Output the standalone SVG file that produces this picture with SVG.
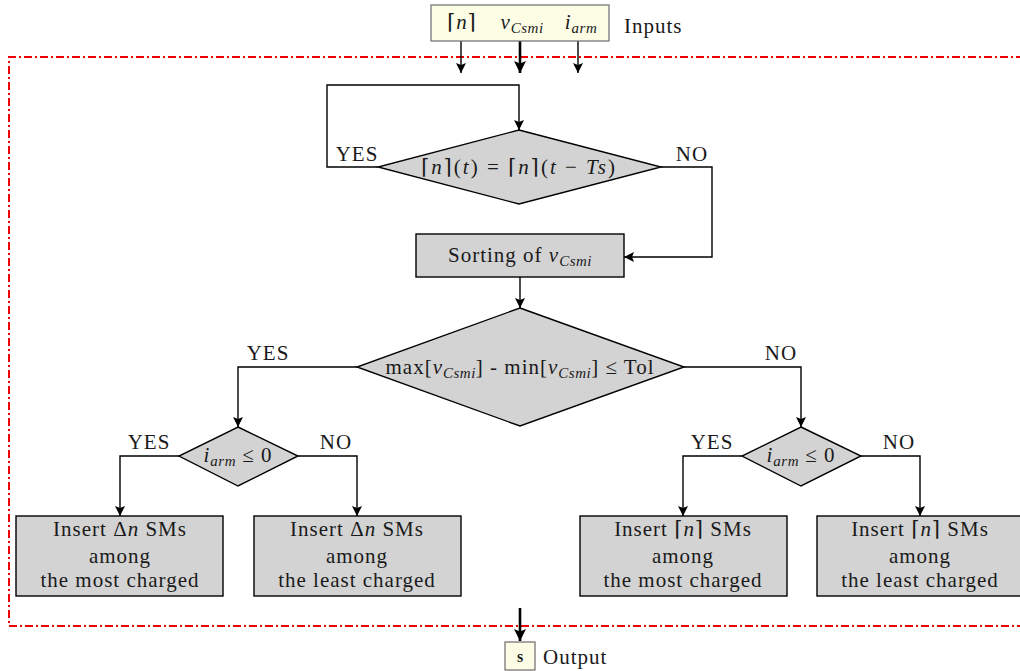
<svg xmlns="http://www.w3.org/2000/svg" width="1020" height="671" viewBox="0 0 1020 671">
<defs>
<marker id="ah" viewBox="0 0 10 10" refX="10" refY="5" markerWidth="10" markerHeight="10" markerUnits="userSpaceOnUse" orient="auto">
<path d="M0,0 L10,5 L0,10 L2,5 Z" fill="#000"/>
</marker>
<marker id="ahb" viewBox="0 0 10 10" refX="10" refY="5" markerWidth="12" markerHeight="12" markerUnits="userSpaceOnUse" orient="auto">
<path d="M0,0 L10,5 L0,10 L2,5 Z" fill="#000"/>
</marker>
</defs>
<style>
text{font-family:"Liberation Serif","DejaVu Serif",serif;font-size:21px;letter-spacing:1px;fill:#1a1a1a}
.m{font-style:italic}
.c{text-anchor:middle}
.sub{font-size:15px;font-style:italic;letter-spacing:0.5px}
.node{fill:#d3d3d3;stroke:#000;stroke-width:1.4}
.io{fill:#fdfde6;stroke:#777;stroke-width:1.3}
.ln{fill:none;stroke:#000;stroke-width:1.4}
.lnb{fill:none;stroke:#000;stroke-width:2.6}
.frame{fill:none;stroke:#e00;stroke-width:2;stroke-dasharray:8 3 2 3}
</style>
<rect width="1020" height="671" fill="#fff"/>
<path class="frame" d="M1024,57 H9 V626 H1024"/>
<g id="connectors">
<line class="ln" x1="461" y1="41" x2="461" y2="73" marker-end="url(#ah)"/>
<line class="lnb" x1="520" y1="41" x2="520" y2="73" marker-end="url(#ahb)"/>
<line class="ln" x1="578" y1="41" x2="578" y2="73" marker-end="url(#ah)"/>
<path class="ln" d="M378,167 H327 V85 H519 V130" marker-end="url(#ah)"/>
<path class="ln" d="M661,167 H712 V257 H624" marker-end="url(#ah)"/>
<line class="ln" x1="520" y1="277" x2="520" y2="308" marker-end="url(#ah)"/>
<path class="ln" d="M357,367 H238 V427" marker-end="url(#ah)"/>
<path class="ln" d="M684,367 H801 V427" marker-end="url(#ah)"/>
<path class="ln" d="M179,456 H120 V516" marker-end="url(#ah)"/>
<path class="ln" d="M298,456 H357 V516" marker-end="url(#ah)"/>
<path class="ln" d="M742,456 H683 V516" marker-end="url(#ah)"/>
<path class="ln" d="M861,456 H920 V516" marker-end="url(#ah)"/>
<line class="lnb" x1="520" y1="608" x2="520" y2="641" marker-end="url(#ahb)"/>
<text x="357" y="161" class="c">YES</text>
<text x="692" y="161" class="c">NO</text>
<text x="268" y="360" class="c">YES</text>
<text x="781" y="360" class="c">NO</text>
<text x="149" y="449" class="c">YES</text>
<text x="336" y="449" class="c">NO</text>
<text x="712" y="449" class="c">YES</text>
<text x="899" y="449" class="c">NO</text>
</g>
<g id="inputs">
<rect class="io" x="431" y="5" width="178" height="36"/>
<text x="462" y="29" class="c">⌈<tspan class="m">n</tspan>⌉</text>
<text x="522" y="29" class="c"><tspan class="m">v</tspan><tspan class="sub" dy="4">Csmi</tspan></text>
<text x="581" y="29" class="c"><tspan class="m">i</tspan><tspan class="sub" dy="4">arm</tspan></text>
<text x="624" y="33">Inputs</text>
</g>
<g id="decision1">
<polygon class="node" points="519,130 661,167 519,204 378,167"/>
<text x="519" y="174" class="c" style="letter-spacing:2px">⌈<tspan class="m">n</tspan>⌉(<tspan class="m">t</tspan>) = ⌈<tspan class="m">n</tspan>⌉(<tspan class="m">t</tspan> − <tspan class="m">Ts</tspan>)</text>
</g>
<g id="sorting">
<rect class="node" x="416" y="234" width="208" height="43"/>
<text x="520" y="262" class="c">Sorting of <tspan class="m">v</tspan><tspan class="sub" dy="4">Csmi</tspan></text>
</g>
<g id="decision2">
<polygon class="node" points="520,308 684,367 520,426 357,367"/>
<text x="520" y="374" class="c">max[<tspan class="m">v</tspan><tspan class="sub" dy="4">Csmi</tspan><tspan dy="-4">] - min[</tspan><tspan class="m">v</tspan><tspan class="sub" dy="4">Csmi</tspan><tspan dy="-4">] ≤ Tol</tspan></text>
</g>
<g id="decision3">
<polygon class="node" points="238,427 298,456 238,486 179,456"/>
<text x="238" y="462" class="c"><tspan class="m">i</tspan><tspan class="sub" dy="4">arm</tspan><tspan dy="-4"> ≤ 0</tspan></text>
</g>
<g id="decision4">
<polygon class="node" points="801,427 861,456 801,486 742,456"/>
<text x="801" y="462" class="c"><tspan class="m">i</tspan><tspan class="sub" dy="4">arm</tspan><tspan dy="-4"> ≤ 0</tspan></text>
</g>
<g id="box1">
<rect class="node" x="16" y="516" width="207" height="80"/>
<text x="120" y="536" class="c">Insert Δ<tspan class="m">n</tspan> SMs</text>
<text x="120" y="563" class="c">among</text>
<text x="120" y="587" class="c">the most charged</text>
</g>
<g id="box2">
<rect class="node" x="254" y="516" width="207" height="80"/>
<text x="357" y="536" class="c">Insert Δ<tspan class="m">n</tspan> SMs</text>
<text x="357" y="563" class="c">among</text>
<text x="357" y="587" class="c">the least charged</text>
</g>
<g id="box3">
<rect class="node" x="580" y="516" width="207" height="80"/>
<text x="683" y="536" class="c">Insert ⌈<tspan class="m">n</tspan>⌉ SMs</text>
<text x="683" y="563" class="c">among</text>
<text x="683" y="587" class="c">the most charged</text>
</g>
<g id="box4">
<rect class="node" x="817" y="516" width="207" height="80"/>
<text x="920" y="536" class="c">Insert ⌈<tspan class="m">n</tspan>⌉ SMs</text>
<text x="920" y="563" class="c">among</text>
<text x="920" y="587" class="c">the least charged</text>
</g>
<g id="output">
<rect class="io" x="505" y="642" width="30" height="28"/>
<text x="520" y="662" class="c" style="font-weight:bold;font-size:16px;letter-spacing:0">s</text>
<text x="543" y="664">Output</text>
</g>
</svg>
